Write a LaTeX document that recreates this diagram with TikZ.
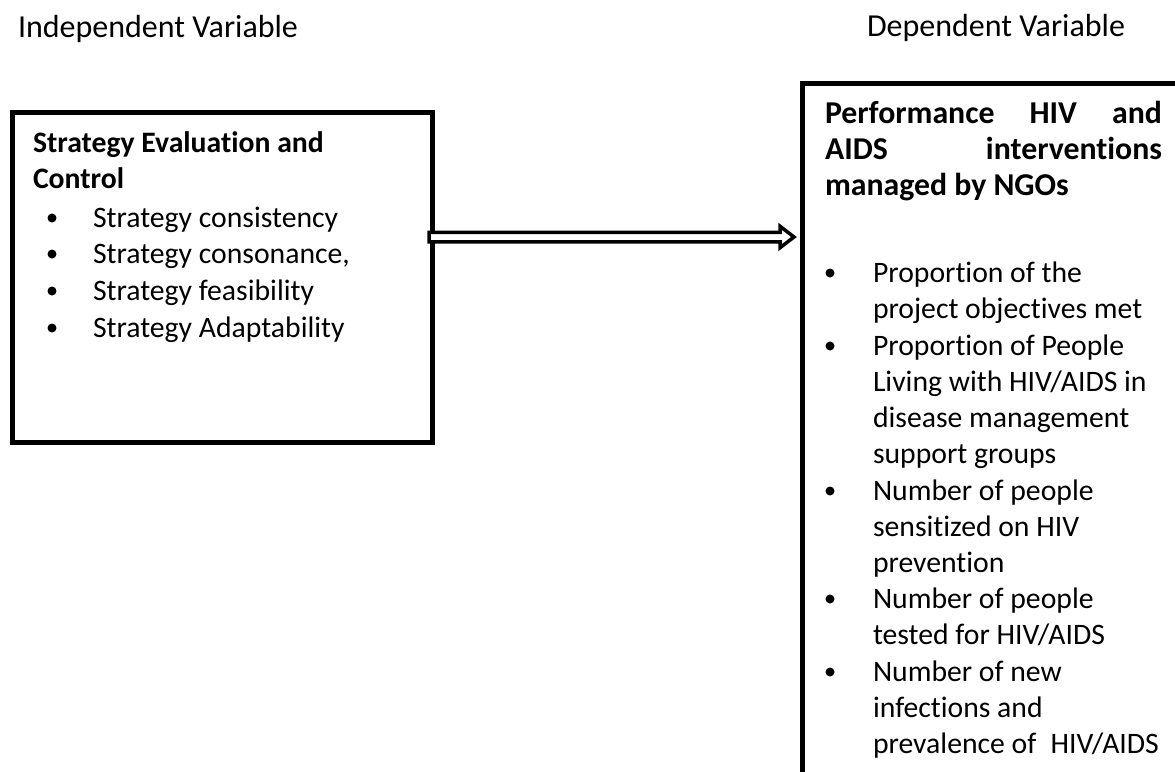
\documentclass[tikz,border=0pt]{standalone}
\usepackage{fontspec}
\setmainfont{Carlito}[Ligatures=NoCommon]
\usetikzlibrary{calc}
\tikzset{
  box/.style={draw, line width=5pt, rectangle, inner sep=0pt, outer sep=0pt},
  txt/.style={anchor=base west, inner sep=0pt, outer sep=0pt, font=\fontsize{29.7}{36}\selectfont},
  btxt/.style={anchor=base west, inner sep=0pt, outer sep=0pt, font=\fontsize{29.7}{36}\selectfont\bfseries},
  bigbtxt/.style={anchor=base west, inner sep=0pt, outer sep=0pt, font=\fontsize{31.8}{38}\selectfont\bfseries},
  lbl/.style={anchor=base west, inner sep=0pt, outer sep=0pt, font=\fontsize{32}{38}\selectfont},
  bdot/.style={circle, fill=black, inner sep=0pt, minimum size=9pt},
  blockarrow/.style={draw, line width=3.5pt, fill=white, line join=miter}
}
\begin{document}
\begin{tikzpicture}[x=1pt,y=-1pt]
\useasboundingbox (0,0) rectangle (1175,771);
\clip (0,0) rectangle (1175,771);
% top labels
\node[lbl] (iv) at (18,37) {Independent Variable};
\node[lbl] (dv) at (867,36) {Dependent Variable};
% boxes
\node[box, minimum width=420pt, minimum height=330pt, anchor=north west] (L) at (12,112) {};
\node[box, minimum width=500pt, minimum height=800pt, anchor=north west] (R) at (802,83) {};
% left box text
\node[btxt] (lh1) at (33,152) {Strategy Evaluation and};
\node[btxt] (lh2) at (33,188) {Control};
\foreach \y/\t [count=\i] in {227/{Strategy consistency},263/{Strategy consonance,},300/{Strategy feasibility},337/{Strategy Adaptability}}{
  \node[bdot] (lb\i) at (52,\y-9) {};
  \node[txt] (lt\i) at (93,\y) {\t};
}
% right box text
\node[bigbtxt] (rh1) at (825,123) {\makebox[337pt][s]{Performance HIV and}};
\node[bigbtxt] (rh2) at (825,159) {\makebox[337pt][s]{AIDS interventions}};
\node[bigbtxt] (rh3) at (825,195) {managed by NGOs};
\foreach \y/\t [count=\i] in {282/{Proportion of the},318/{project objectives met},355/{Proportion of People},391/{Living with HIV/AIDS in},427/{disease management},463/{support groups},500/{Number of people},536/{sensitized on HIV},572/{prevention},608/{Number of people},644/{tested for HIV/AIDS},681/{Number of new},717/{infections and},753/{prevalence of\hspace{0.25em} HIV/AIDS}}{
  \node[txt] (rt\i) at (873,\y) {\t};
}
\foreach \y [count=\i] in {282,355,500,608,681}{
  \node[bdot] (rb\i) at (830,\y-9) {};
}
% arrow
\coordinate (ay) at (0,237);
\coordinate (a1) at (L.east |- ay);
\coordinate (a2) at (R.west |- ay);
\draw[blockarrow] ($(a1)+(-3,-4.75)$) -- ($(a2)+(-22,-4.75)$) -- ($(a2)+(-22,-10.75)$) -- ($(a2)+(-8,0)$) -- ($(a2)+(-22,10.75)$) -- ($(a2)+(-22,4.75)$) -- ($(a1)+(-3,4.75)$) -- cycle;
\end{tikzpicture}
\end{document}
